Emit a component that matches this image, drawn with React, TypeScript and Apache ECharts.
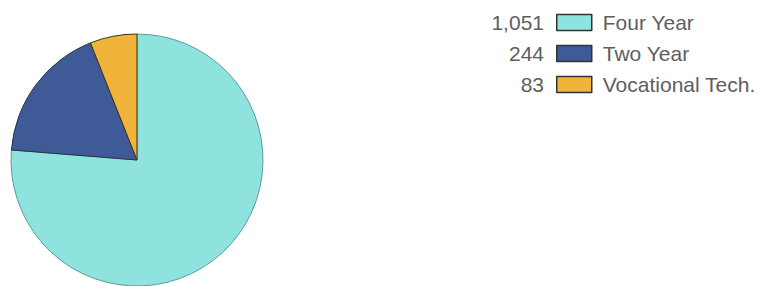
import React, { useEffect, useRef } from "react";
import * as echarts from "echarts";

const categories = ["Four Year", "Two Year", "Vocational Tech."];
const values = [1051, 244, 83];
const colors = ["#8ee3df", "#3f5b97", "#f0b43a"];
const borders = ["#5f9c99", "#2a2f45", "#3a3020"];

const FONT = "'Liberation Sans', Arial, sans-serif";

export default function App() {
  const ref = useRef<HTMLDivElement>(null);
  useEffect(() => {
    if (!ref.current) return;
    const chart = echarts.init(ref.current, undefined, { renderer: "svg" });
    const firstCenter = 22.5;
    const rowStep = 31;
    const fontSize = 21;
    chart.setOption({
      animation: false,
      legend: {
        orient: "vertical",
        left: 556,
        top: firstCenter - fontSize / 2,
        padding: 0,
        itemWidth: 35,
        itemHeight: 16,
        itemGap: rowStep - fontSize,
        icon: "rect",
        selectedMode: false,
        textStyle: { fontSize, color: "#5e5e5e", fontFamily: FONT, padding: [0, 0, 0, 6] },
        data: categories.map((c, i) => ({
          name: c,
          itemStyle: { color: colors[i], borderColor: "#333", borderWidth: 1.5 },
        })),
      },
      graphic: values.map((v, i) => ({
        type: "text",
        x: 544,
        y: firstCenter + i * rowStep,
        style: {
          text: v.toLocaleString("en-US"),
          fill: "#5e5e5e",
          font: `${fontSize}px ${FONT}`,
          textAlign: "right",
          textVerticalAlign: "middle",
        },
      })),
      series: [
        {
          type: "pie",
          center: [137, 160],
          radius: 126,
          startAngle: 90,
          clockwise: true,
          label: { show: false },
          labelLine: { show: false },
          emphasis: { disabled: true },
          data: categories.map((c, i) => ({
            name: c,
            value: values[i],
            itemStyle: { color: colors[i], borderColor: borders[i], borderWidth: 1 },
          })),
        },
      ],
    });
    return () => chart.dispose();
  }, []);
  return <div ref={ref} style={{ width: 769, height: 286, position: "absolute", left: 0, top: 0 }} />;
}
